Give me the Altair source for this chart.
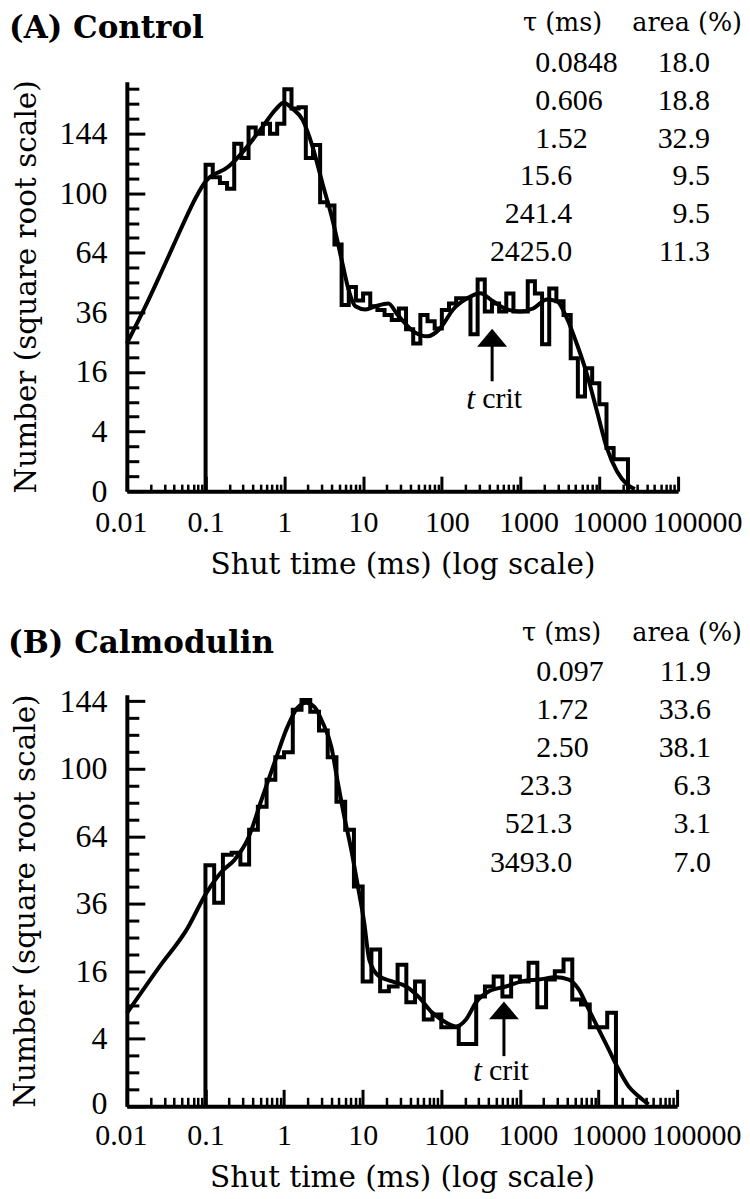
import altair as alt
import pandas as pd

# ---------------- data ----------------
X_TICKS = [0.01, 0.1, 1, 10, 100, 1000, 10000, 100000]
Y_TICKS = [0, 4, 16, 36, 64, 100, 144]
X_TITLE = "Shut time (ms) (log scale)"
Y_TITLE = "Number (square root scale)"
TABLE_HEAD = ["τ (ms)", "area (%)"]

A_TITLE = "(A) Control"
A_BIN_START = 0.1
A_BINS_PER_DECADE = 11
A_COUNTS = [120, 111, 107, 103, 136, 125, 149, 144, 152, 144, 152, 182, 165, 166, 125,
            135, 94, 92, 68.6, 39, 47, 41, 44, 38.5, 37, 35, 33, 37.6, 29.5, 24.6,
            35, 32.5, 29.8, 37, 39.7, 41.9, 41.9, 27.7, 50.5, 36.4, 39.7, 36.4, 44, 36.4, 36.4,
            49.6, 44, 24.3, 46.3, 40.6, 35, 19.9, 10.1, 17, 13.1, 8.5, 2.1, 1.15, 1.15]
A_CURVE_T = [0.01, 0.01845, 0.027, 0.0383, 0.0593, 0.075, 0.0998, 0.196, 0.322, 0.53,
             0.773, 0.977, 1.27, 1.70, 2.28, 3.05, 4.08, 5.47, 6.52, 7.99,
             10.7, 14.3, 20.9, 27.2, 43.4, 65.4, 95.5, 139, 210, 307,
             448, 674, 986, 1440, 2166, 2902, 3883, 5199, 6962, 9327,
             12480, 16720, 22380, 28250]
A_CURVE_N = [24.6, 40.6, 53.5, 67.2, 86.5, 97.0, 108, 118.7, 132.2, 149.7,
             164, 170, 164.8, 155.5, 133.8, 106.6, 83.2, 58.4, 45.9, 38.5,
             37.2, 38.5, 39.7, 35.2, 28.8, 27.0, 29.9, 37.2, 41.9, 44.1,
             40.6, 37.2, 36.4, 37.6, 41.4, 40.6, 33.6, 24.3, 15.4, 7.2,
             2.08, 0.45, 0.055, 0.0045]
A_TAU = ["0.0848", "0.606", "1.52", "15.6", "241.4", "2425.0"]
A_AREA = ["18.0", "18.8", "32.9", "9.5", "9.5", "11.3"]
A_TCRIT = 435

B_TITLE = "(B) Calmodulin"
B_BIN_START = 0.1
B_BINS_PER_DECADE = 9
B_COUNTS = [51, 36.4, 55.6, 56.4, 51.3, 67.2, 78.8, 93.6, 107, 110, 138, 145, 136.6, 124,
            107, 81.4, 67.2, 42.4, 13.7, 21.6, 11.6, 12.6, 17.6, 9.5, 13.7, 6.6, 7.4,
            5.5, 5.5, 3.4, 3.4, 10.6, 12.6, 14.8, 10.6, 14.8, 13.7, 18.1, 8.6, 14.1,
            16, 18.9, 10, 9.1, 5.5, 5.5, 7.7]
B_CURVE_T = [0.01, 0.0262, 0.0577, 0.1035, 0.1606, 0.235, 0.3435, 0.517, 0.755, 1.104,
             1.479, 1.924, 2.431, 3.072, 3.996, 4.764, 5.84, 7.16, 8.53, 10.47,
             12.12, 16.25, 23.8, 35.8, 52.3, 76.4, 115, 154, 206.5, 276.6,
             404.6, 664, 1060, 1742, 2864, 4188, 5610, 7515, 10070, 13490,
             18030, 24150, 32360, 43350]
B_CURVE_N = [7.6, 17.2, 27.4, 40.1, 48.3, 53.4, 62.4, 82.5, 103.6, 126.4,
             139.4, 142.9, 140.0, 129.7, 113.4, 93.6, 73.6, 57.8, 43.9, 29.6,
             18.9, 14.8, 13.7, 12.6, 10.4, 7.73, 6.18, 5.60, 6.62, 9.47,
             11.6, 12.6, 13.7, 14.1, 14.6, 14.1, 12.0, 8.24, 5.19, 2.84,
             1.20, 0.35, 0.088, 0.0035]
B_TAU = ["0.097", "1.72", "2.50", "23.3", "521.3", "3493.0"]
B_AREA = ["11.9", "33.6", "38.1", "6.3", "3.1", "7.0"]
B_TCRIT = 627

# ---------------- layout / style ----------------
NUM_FONT = "Liberation Serif"
WORD_FONT = "DejaVu Serif"
LINE_W = 4

X_LABEL_SHIFT = {
    "condition": [
        {"test": "datum.value >= 50000", "value": 19},
        {"test": "datum.value >= 5000", "value": 10},
        {"test": "datum.value >= 500", "value": 8},
        {"test": "datum.value >= 50", "value": 5},
        {"test": "datum.value < 0.05", "value": -6},
    ],
    "value": 0,
}

A_LAYOUT = dict(W=552, H=410, ymax=188.9, ymax_sqrt_half=27,
                title_x=-118, title_y=-43.3,
                head_y=-58.3, row0_y=-18.3, row_step=37.7,
                tau_left=409, tau_right=446, area_right=584,
                head_tau=476, head_area=616,
                arrow_head=26.5, arrow_tail=13.6, label_n=9.5, t_dx=-17, crit_dx=-10,
                xlab_pad=40, xtitle_y=82, ytitle_x=-100, y0_shift=0,
                xmaj=15, xmin=7)
B_LAYOUT = dict(W=551, H=412, ymax=148.6, ymax_sqrt_half=24,
                title_x=-119, title_y=-41.7,
                head_y=-62, row0_y=-23, row_step=38.2,
                tau_left=410, tau_right=446, area_right=585,
                head_tau=475, head_area=616,
                arrow_head=8.08, arrow_tail=2.21, label_n=1.07, t_dx=-22, crit_dx=-15,
                xlab_pad=38, xtitle_y=80, ytitle_x=-101, y0_shift=-3,
                xmaj=17, xmin=9)


def step_frame(start, per_dec, counts):
    edges = [start * 10 ** (k / per_dec) for k in range(len(counts) + 1)]
    rows = [(edges[0], 0.0)]
    for k, c in enumerate(counts):
        rows.append((edges[k], c))
    rows.append((edges[-1], 0.0))
    df = pd.DataFrame(rows, columns=["t", "n"])
    df["i"] = range(len(df))
    return df


def panel(title, start, per_dec, counts, ct, cn, tau, area, tcrit, L):
    W, H = L["W"], L["H"]
    xs = alt.Scale(type="log", domain=[0.01, 100000], nice=False)
    ys = alt.Scale(type="sqrt", domain=[0, L["ymax"]], nice=False, zero=True)

    x_minor = [m * 10 ** k for k in range(-2, 5) for m in range(2, 10)]
    y_minor = [(h / 2) ** 2 for h in range(0, L["ymax_sqrt_half"] + 1) if h % 4 != 0]

    x_lab = alt.Axis(values=X_TICKS, format="~g", orient="bottom", ticks=False, tickSize=0,
                     domain=True, domainWidth=4, domainColor="black", grid=False,
                     labelFont=NUM_FONT, labelFontSize=30, labelColor="black",
                     labelPadding=L["xlab_pad"], labelBaseline="alphabetic",
                     labelOffset=X_LABEL_SHIFT,
                     labelOverlap=False, labelFlush=False, labelBound=False,
                     title=X_TITLE, titleFont=WORD_FONT, titleFontSize=29.5,
                     titleFontWeight="normal", titleColor="black",
                     titleX=W / 2, titleY=L["xtitle_y"], titleAlign="center",
                     titleBaseline="alphabetic")
    y_lab = alt.Axis(values=Y_TICKS, format="d", orient="left", ticks=False, tickSize=0,
                     domain=True, domainWidth=4, domainColor="black", grid=False,
                     labelFont=NUM_FONT, labelFontSize=32, labelColor="black",
                     labelPadding=20, labelBaseline="middle", labelAlign="right",
                     labelOffset={"condition": {"test": "datum.value == 0",
                                                "value": L["y0_shift"]}, "value": 0},
                     labelOverlap=False, labelFlush=False, labelBound=False,
                     title=Y_TITLE, titleFont=WORD_FONT, titleFontSize=29.5,
                     titleFontWeight="normal", titleColor="black",
                     titleAngle=270, titleX=L["ytitle_x"], titleY=H / 2,
                     titleAlign="center", titleBaseline="middle")
    x_major = alt.Axis(values=X_TICKS, orient="top", offset=-H, ticks=True,
                       tickSize=L["xmaj"], tickWidth=3, tickColor="black",
                       labels=False, domain=False, grid=False, title=None)
    x_min = alt.Axis(values=x_minor, orient="top", offset=-H, ticks=True,
                     tickSize=L["xmin"], tickWidth=2.5, tickColor="black",
                     labels=False, domain=False, grid=False, title=None)
    y_major = alt.Axis(values=Y_TICKS, orient="right", offset=-W, ticks=True,
                       tickSize=18, tickWidth=3, tickColor="black",
                       labels=False, domain=False, grid=False, title=None)
    y_min = alt.Axis(values=y_minor, orient="right", offset=-W, ticks=True,
                     tickSize=12, tickWidth=3, tickColor="black",
                     labels=False, domain=False, grid=False, title=None)

    hist = alt.Chart(step_frame(start, per_dec, counts)).mark_line(
        interpolate="step-after", color="black", strokeWidth=LINE_W, strokeJoin="miter"
    ).encode(
        x=alt.X("t:Q", scale=xs, axis=x_lab),
        y=alt.Y("n:Q", scale=ys, axis=y_lab),
        order=alt.Order("i:Q"),
    )

    curve = alt.Chart(pd.DataFrame({"t": ct, "n": cn})).mark_line(
        interpolate="monotone", color="black", strokeWidth=LINE_W
    ).encode(
        x=alt.X("t:Q", scale=xs, axis=x_major),
        y=alt.Y("n:Q", scale=ys, axis=y_major),
    )

    arrow_df = pd.DataFrame({"t": [tcrit], "nh": [L["arrow_head"]],
                             "nt": [L["arrow_tail"]], "nl": [L["label_n"]]})
    shaft = alt.Chart(arrow_df).mark_rule(color="black", strokeWidth=3).encode(
        x=alt.X("t:Q", scale=xs, axis=x_min),
        y=alt.Y("nh:Q", scale=ys, axis=y_min),
        y2="nt:Q",
    )
    head = alt.Chart(arrow_df).mark_point(
        shape="M0,-0.6L1,0.6L-1,0.6Z", size=900, filled=True, color="black",
        opacity=1, strokeWidth=0
    ).encode(
        x=alt.X("t:Q", scale=xs, axis=None),
        y=alt.Y("nh:Q", scale=ys, axis=None),
    )
    t_txt = alt.Chart(arrow_df).mark_text(
        text="t", font=NUM_FONT, fontStyle="italic", fontSize=32, align="right",
        baseline="middle", dx=L["t_dx"], color="black"
    ).encode(x=alt.X("t:Q", scale=xs, axis=None), y=alt.Y("nl:Q", scale=ys, axis=None))
    crit_txt = alt.Chart(arrow_df).mark_text(
        text="crit", font=NUM_FONT, fontSize=30, align="left",
        baseline="middle", dx=L["crit_dx"], color="black"
    ).encode(x=alt.X("t:Q", scale=xs, axis=None), y=alt.Y("nl:Q", scale=ys, axis=None))

    title_txt = alt.Chart(pd.DataFrame({"s": [title]})).mark_text(
        font=WORD_FONT, fontWeight="bold", fontSize=31, align="left",
        baseline="alphabetic", color="black"
    ).encode(text="s:N", x=alt.value(L["title_x"]), y=alt.value(L["title_y"]))

    head_df = pd.DataFrame({"s": TABLE_HEAD, "px": [L["head_tau"], L["head_area"]],
                            "py": [L["head_y"], L["head_y"]]})
    head_txt = alt.Chart(head_df).mark_text(
        font=WORD_FONT, fontSize=25.5, align="right", baseline="middle", color="black"
    ).encode(text="s:N", x=alt.X("px:Q", scale=None, axis=None),
             y=alt.Y("py:Q", scale=None, axis=None))

    ys_rows = [L["row0_y"] + L["row_step"] * k for k in range(len(tau))]
    left_df = pd.DataFrame({"s": tau[:3], "px": [L["tau_left"]] * 3, "py": ys_rows[:3]})
    right_df = pd.DataFrame({
        "s": tau[3:] + area,
        "px": [L["tau_right"]] * (len(tau) - 3) + [L["area_right"]] * len(area),
        "py": ys_rows[3:] + ys_rows,
    })
    tab_left = alt.Chart(left_df).mark_text(
        font=NUM_FONT, fontSize=30, align="left", baseline="middle", color="black"
    ).encode(text="s:N", x=alt.X("px:Q", scale=None, axis=None),
             y=alt.Y("py:Q", scale=None, axis=None))
    tab_right = alt.Chart(right_df).mark_text(
        font=NUM_FONT, fontSize=30, align="right", baseline="middle", color="black"
    ).encode(text="s:N", x=alt.X("px:Q", scale=None, axis=None),
             y=alt.Y("py:Q", scale=None, axis=None))

    return alt.layer(
        hist, curve, shaft, head, t_txt, crit_txt, title_txt, head_txt, tab_left, tab_right
    ).resolve_axis(x="independent", y="independent").properties(width=W, height=H)


pa = panel(A_TITLE, A_BIN_START, A_BINS_PER_DECADE, A_COUNTS, A_CURVE_T, A_CURVE_N,
           A_TAU, A_AREA, A_TCRIT, A_LAYOUT)
pb = panel(B_TITLE, B_BIN_START, B_BINS_PER_DECADE, B_COUNTS, B_CURVE_T, B_CURVE_N,
           B_TAU, B_AREA, B_TCRIT, B_LAYOUT)

chart = alt.vconcat(pa, pb, spacing=42).properties(
    padding={"left": 0, "top": 2, "right": 0, "bottom": 0}, background="white"
).configure_view(stroke=None)

chart.save("out.html", embed_options={"renderer": "svg", "actions": False})
